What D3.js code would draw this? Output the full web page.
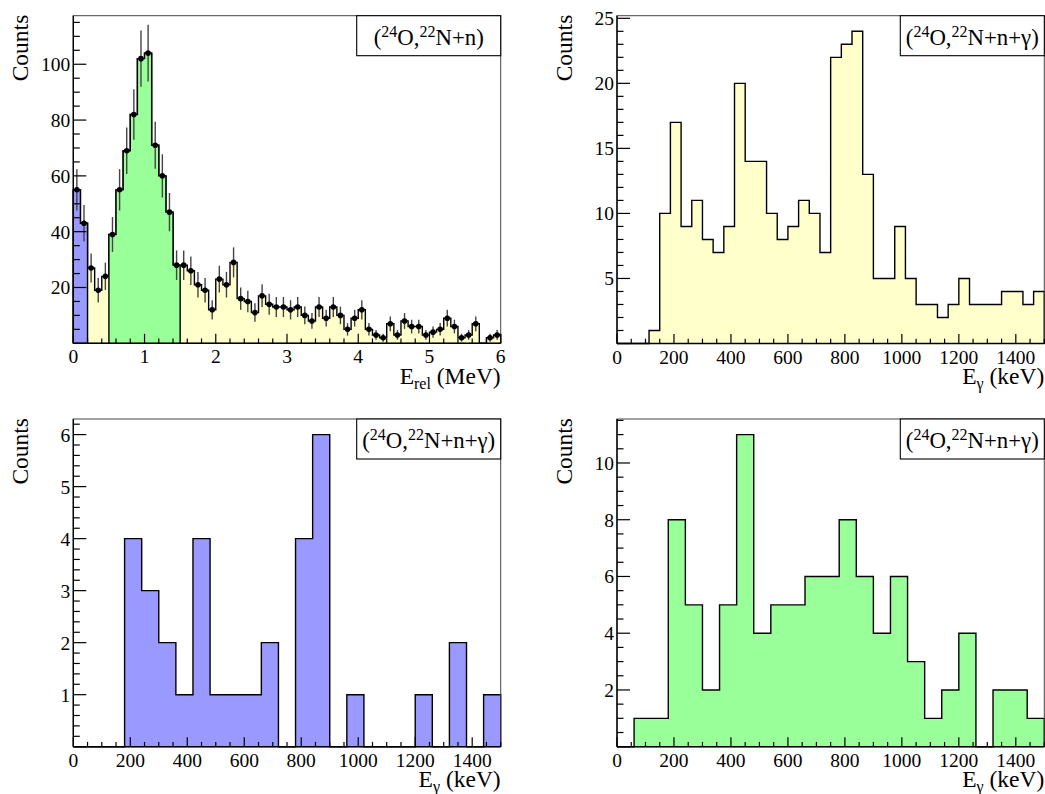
<!DOCTYPE html>
<html><head><meta charset="utf-8">
<script src="https://cdn.jsdelivr.net/npm/d3@7"></script>
<style>
html,body{margin:0;padding:0;background:#fff;}
svg text{font-family:"Liberation Serif","Times New Roman",serif;fill:#000;white-space:pre;}
</style></head>
<body>
<svg id="c" width="1045" height="794"></svg>
<script>
// ---------- data ----------
// Top-left: E_rel spectrum, 60 bins of 0.1 MeV from 0 to 6 MeV
const erelBinWidth = 0.1;
const erelCounts = [55,43,27,19,24,39,55,69,82,102,104,71,60,47,28,
                    28,26,21,19,12,23,21,29,16,15,11,17,14,13,13,
                    12,13,10,8,13,9,13,10,5,9,12,5,3,2,7,
                    3,8,6,6,3,4,5,9,6,2,3,7,0,2,3];
const blueGate = [0, 0.2];
const greenGate = [0.5, 1.5];
const erelTicks = [0,1,2,3,4,5,6];

// Top-right: E_gamma, 40 bins of 37.5 keV (all E_rel)
const gAllBinWidth = 37.5;
const gAllCounts = [0,0,0,1,10,17,9,11,8,7,9,20,14,14,10,8,9,11,10,7,
                    22,23,24,13,5,5,9,5,3,3,2,3,5,3,3,3,4,4,3,4];
// Bottom-left: E_gamma gated on blue region, 25 bins of 60 keV
const gBlueBinWidth = 60;
const gBlueCounts = [0,0,0,4,3,2,1,4,1,1,1,2,0,4,6,0,1,0,0,0,1,0,2,0,1];
// Bottom-right: E_gamma gated on green region, 25 bins of 60 keV
const gGreenBinWidth = 60;
const gGreenCounts = [0,1,1,8,5,2,5,11,4,5,5,6,6,8,6,4,6,3,1,2,4,0,2,2,1];
const egTicks = [0,200,400,600,800,1000,1200,1400];

const yTicksTL = [20,40,60,80,100];
const yTicksTR = [5,10,15,20,25];
const yTicksBL = [1,2,3,4,5,6];
const yTicksBR = [2,4,6,8,10];

// ---------- styles ----------
const COL_YELLOW = "#ffffcc", COL_BLUE = "#9999ff", COL_GREEN = "#99ff99";
const svg = d3.select("#c");

function panel(opt){
  const g = svg.append("g");
  const x = d3.scaleLinear().domain(opt.xDomain).range([opt.left, opt.right]);
  const y = d3.scaleLinear().domain(opt.yDomain).range([opt.bottom, opt.top]);
  return {g, x, y, opt};
}

function histPath(counts, bw, x, y, lo, hi){
  const pts = [];
  let started = false;
  counts.forEach((c,i)=>{
    const a = i*bw, b = (i+1)*bw;
    if (a < lo - 1e-9 || b > hi + 1e-9) return;
    if(!started){ pts.push([x(a), y(0)]); started = true; }
    pts.push([x(a), y(c)]);
    pts.push([x(b), y(c)]);
  });
  if(pts.length){ pts.push([pts[pts.length-1][0], y(0)]); }
  return d3.line()(pts);
}

function drawHist(P, counts, bw, fill, lo, hi){
  if(lo===undefined){ lo = P.opt.xDomain[0]; hi = P.opt.xDomain[1]; }
  P.g.append("path").attr("d", histPath(counts,bw,P.x,P.y,lo,hi))
    .attr("fill", fill).attr("stroke","#000").attr("stroke-width",1.4)
    .attr("stroke-linejoin","miter");
}

function drawAxes(P, xMajor, xMinorStep, yMajor, yMinorStep, xLabelFmt){
  const o = P.opt, g = P.g;
  g.append("rect").attr("x",o.left).attr("y",o.top)
    .attr("width",o.right-o.left).attr("height",o.bottom-o.top)
    .attr("fill","none").attr("stroke","#444").attr("stroke-width",1);
  const xd = o.xDomain, yd = o.yDomain;
  const xMinor = d3.range(xd[0], xd[1]+1e-9, xMinorStep);
  xMinor.forEach(v=>{
    const isMaj = xMajor.some(m=>Math.abs(m-v)<1e-6);
    const L = isMaj ? 9.5 : 4.8;
    g.append("line").attr("x1",P.x(v)).attr("x2",P.x(v))
      .attr("y1",o.bottom).attr("y2",o.bottom-L)
      .attr("stroke","#000").attr("stroke-width",1.2);
  });
  const yMinor = d3.range(yd[0], yd[1]+1e-9, yMinorStep);
  yMinor.forEach(v=>{
    const isMaj = yMajor.some(m=>Math.abs(m-v)<1e-6) || Math.abs(v)<1e-9;
    const L = isMaj ? 13 : 6.5;
    g.append("line").attr("x1",o.left).attr("x2",o.left+L)
      .attr("y1",P.y(v)).attr("y2",P.y(v))
      .attr("stroke","#000").attr("stroke-width",1.2);
  });
  g.append("line").attr("x1",o.left).attr("x2",o.right).attr("y1",o.bottom).attr("y2",o.bottom)
    .attr("stroke","#000").attr("stroke-width",1.4);
  g.append("line").attr("x1",o.left).attr("x2",o.left).attr("y1",o.top).attr("y2",o.bottom)
    .attr("stroke","#000").attr("stroke-width",1.4);
  xMajor.forEach(v=>{
    g.append("text").attr("x",P.x(v)).attr("y",o.bottom+20)
      .attr("text-anchor","middle").attr("font-size",19.5).text(xLabelFmt(v));
  });
  yMajor.forEach(v=>{
    g.append("text").attr("x",o.left-3).attr("y",P.y(v)+7)
      .attr("text-anchor","end").attr("font-size",19.5).text(v);
  });
  g.append("text").attr("transform",`translate(${o.left-45},${o.top-1}) rotate(-90)`)
    .attr("text-anchor","end").attr("font-size",23.5).text("Counts");
}

function xTitle(P, main, sub, rest){
  const o = P.opt;
  const t = P.g.append("text").attr("x",o.right).attr("y",o.bottom+40.5)
    .attr("text-anchor","end").attr("font-size",23.5);
  t.append("tspan").text(main);
  t.append("tspan").attr("font-size",16).attr("dy",5).text(sub);
  t.append("tspan").attr("dy",-5).text(rest);
}

function legend(P, tail){
  const o = P.opt;
  const bx = o.right-144, by = o.top, bw = 144, bh = 40;
  P.g.append("rect").attr("x",bx).attr("y",by).attr("width",bw).attr("height",bh)
    .attr("fill","#fff").attr("stroke","#000").attr("stroke-width",1.1);
  const t = P.g.append("text").attr("x",bx+bw/2).attr("y",by+29)
    .attr("text-anchor","middle").attr("font-size",22.8);
  t.append("tspan").text("(");
  t.append("tspan").attr("font-size",16).attr("dy",-8).text("24");
  t.append("tspan").attr("dy",8).text("O,");
  t.append("tspan").attr("font-size",16).attr("dy",-8).text("22");
  t.append("tspan").attr("dy",8).text(tail);
}

// ---------- top-left ----------
const TL = panel({left:73.3,right:500.7,top:15.7,bottom:343.3,xDomain:[0,6],yDomain:[0,117.4]});
drawHist(TL, erelCounts, erelBinWidth, COL_YELLOW);
drawHist(TL, erelCounts, erelBinWidth, COL_BLUE, blueGate[0], blueGate[1]);
drawHist(TL, erelCounts, erelBinWidth, COL_GREEN, greenGate[0], greenGate[1]);
erelCounts.forEach((c,i)=>{
  if(c<=0) return;
  const xc = TL.x((i+0.5)*erelBinWidth), e = Math.sqrt(c);
  TL.g.append("line").attr("x1",xc).attr("x2",xc)
    .attr("y1",TL.y(c-e)).attr("y2",TL.y(c+e))
    .attr("stroke","#444").attr("stroke-width",1.4);
  TL.g.append("circle").attr("cx",xc).attr("cy",TL.y(c)).attr("r",2.8).attr("fill","#000");
});
drawAxes(TL, erelTicks, 0.2, yTicksTL, 5, v=>v);
xTitle(TL, "E", "rel", " (MeV)");
legend(TL, "N+n)");

// ---------- top-right ----------
const TR = panel({left:617,right:1044.3,top:15.7,bottom:343.5,xDomain:[0,1500],yDomain:[0,25.2]});
drawHist(TR, gAllCounts, gAllBinWidth, COL_YELLOW);
drawAxes(TR, egTicks, 50, yTicksTR, 1, v=>v);
xTitle(TR, "E", "γ", " (keV)");
legend(TR, "N+n+γ)");

// ---------- bottom-left ----------
const BL = panel({left:73.3,right:500.7,top:419,bottom:746.7,xDomain:[0,1500],yDomain:[0,6.3]});
drawHist(BL, gBlueCounts, gBlueBinWidth, COL_BLUE);
drawAxes(BL, egTicks, 50, yTicksBL, 0.2, v=>v);
xTitle(BL, "E", "γ", " (keV)");
legend(BL, "N+n+γ)");

// ---------- bottom-right ----------
const BR = panel({left:617,right:1044.3,top:419,bottom:746.7,xDomain:[0,1500],yDomain:[0,11.55]});
drawHist(BR, gGreenCounts, gGreenBinWidth, COL_GREEN);
drawAxes(BR, egTicks, 50, yTicksBR, 0.5, v=>v);
xTitle(BR, "E", "γ", " (keV)");
legend(BR, "N+n+γ)");
</script>
</body></html>
